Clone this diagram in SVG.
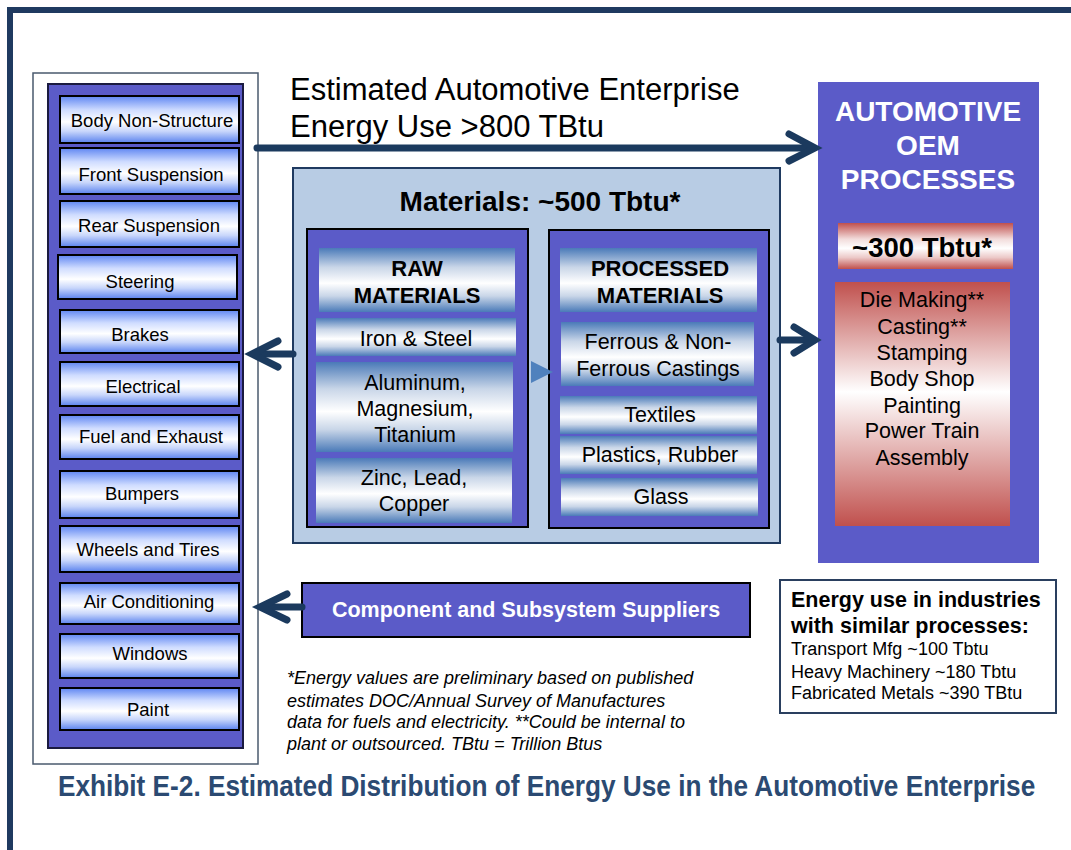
<svg xmlns="http://www.w3.org/2000/svg" width="1071" height="850" viewBox="0 0 1071 850">
<defs>
<linearGradient id="gBlue" x1="0" y1="0" x2="0" y2="1">
<stop offset="0" stop-color="#5f86f2"/><stop offset="0.3" stop-color="#cfdcff"/><stop offset="0.55" stop-color="#ffffff"/><stop offset="0.75" stop-color="#c8d6fb"/><stop offset="1" stop-color="#5a82ee"/>
</linearGradient>
<linearGradient id="gSteel" x1="0" y1="0" x2="0" y2="1">
<stop offset="0" stop-color="#4a7ab8"/><stop offset="0.3" stop-color="#c9d6e8"/><stop offset="0.55" stop-color="#ffffff"/><stop offset="0.75" stop-color="#c9d6e8"/><stop offset="1" stop-color="#4a7ab8"/>
</linearGradient>
<linearGradient id="gRed" x1="0" y1="0" x2="0" y2="1">
<stop offset="0" stop-color="#c0504d"/><stop offset="0.35" stop-color="#f2dcdb"/><stop offset="0.55" stop-color="#ffffff"/><stop offset="0.75" stop-color="#ecc9c8"/><stop offset="1" stop-color="#c0504d"/>
</linearGradient>
<linearGradient id="gRedList" x1="0" y1="0" x2="0" y2="1">
<stop offset="0" stop-color="#c0504d"/><stop offset="0.45" stop-color="#ffffff"/><stop offset="1" stop-color="#c0504d"/>
</linearGradient>
<style>
.t{font-family:"Liberation Sans",Arial,sans-serif;fill:#000;text-anchor:middle}
.it{font-size:18.5px}
.mt{font-size:21.5px}
.hb{font-size:22px;font-weight:bold}
.item{fill:url(#gBlue);stroke:#000;stroke-width:2}
.steel{fill:url(#gSteel)}
.purple{fill:#5b5bc8}
.conn{fill:none;stroke:#1b3a5e;stroke-width:7;stroke-linecap:round;stroke-linejoin:miter}
.fn{font-family:"Liberation Sans",Arial,sans-serif;font-size:18px;font-style:italic;fill:#000}
.eb{font-family:"Liberation Sans",Arial,sans-serif;font-size:21.5px;font-weight:bold;fill:#000}
.er{font-family:"Liberation Sans",Arial,sans-serif;font-size:18px;fill:#000}
</style>
</defs>
<rect x="0" y="0" width="1071" height="850" fill="#ffffff"/>
<rect id="frame" x="10" y="10" width="1100" height="900" fill="none" stroke="#1f3a60" stroke-width="6"/>

<g id="components-panel">
<rect x="33" y="73" width="225" height="691" fill="#ffffff" stroke="#4a5a6e" stroke-width="1.5"/>
<rect x="48" y="84" width="195" height="664" class="purple" stroke="#1a1a40" stroke-width="2"/>
</g>
<g id="body-non-structure"><rect class="item" x="60" y="96" width="179" height="47"/><text class="t it" x="152" y="127">Body Non-Structure</text></g>
<g id="front-suspension"><rect class="item" x="60" y="148" width="179" height="46"/><text class="t it" x="151" y="181">Front Suspension</text></g>
<g id="rear-suspension"><rect class="item" x="60" y="201" width="179" height="46"/><text class="t it" x="149" y="232">Rear Suspension</text></g>
<g id="steering"><rect class="item" x="58" y="255" width="179" height="44"/><text class="t it" x="140" y="288">Steering</text></g>
<g id="brakes"><rect class="item" x="60" y="310" width="179" height="43"/><text class="t it" x="140" y="341">Brakes</text></g>
<g id="electrical"><rect class="item" x="60" y="362" width="179" height="44"/><text class="t it" x="143" y="393">Electrical</text></g>
<g id="fuel-exhaust"><rect class="item" x="60" y="415" width="179" height="44"/><text class="t it" x="151" y="443">Fuel and Exhaust</text></g>
<g id="bumpers"><rect class="item" x="60" y="471" width="179" height="47"/><text class="t it" x="142" y="500">Bumpers</text></g>
<g id="wheels-tires"><rect class="item" x="60" y="526" width="179" height="46"/><text class="t it" x="148" y="556">Wheels and Tires</text></g>
<g id="air-conditioning"><rect class="item" x="60" y="583" width="179" height="41"/><text class="t it" x="149" y="608">Air Conditioning</text></g>
<g id="windows"><rect class="item" x="60" y="634" width="179" height="44"/><text class="t it" x="150" y="660">Windows</text></g>
<g id="paint"><rect class="item" x="60" y="688" width="179" height="42"/><text class="t it" x="148" y="716">Paint</text></g>

<g id="enterprise-title">
<text x="290" y="100" font-family="Liberation Sans,Arial,sans-serif" font-size="31" fill="#000">Estimated Automotive Enterprise</text>
<text x="290" y="137" font-family="Liberation Sans,Arial,sans-serif" font-size="31" fill="#000">Energy Use &gt;800 TBtu</text>
</g>

<g id="materials">
<rect x="293" y="168" width="487" height="375" fill="#b8cce4" stroke="#1f3a60" stroke-width="2"/>
<text class="t" x="540" y="211" font-size="28" font-weight="bold">Materials: ~500 Tbtu*</text>
</g>
<g id="raw-materials">
<rect x="307" y="229" width="221" height="298" class="purple" stroke="#000" stroke-width="2"/>
<rect class="steel" x="319" y="248" width="196" height="64"/>
<text class="t hb" x="417" y="276">RAW</text><text class="t hb" x="417" y="303">MATERIALS</text>
<rect class="steel" x="316" y="318" width="200" height="38"/>
<text class="t mt" x="416" y="346">Iron &amp; Steel</text>
<rect class="steel" x="316" y="362" width="197" height="90"/>
<text class="t mt" x="415" y="390">Aluminum,</text><text class="t mt" x="415" y="416">Magnesium,</text><text class="t mt" x="415" y="442">Titanium</text>
<rect class="steel" x="316" y="458" width="196" height="65"/>
<text class="t mt" x="414" y="485">Zinc, Lead,</text><text class="t mt" x="414" y="511">Copper</text>
</g>
<g id="processed-materials">
<rect x="549" y="230" width="220" height="298" class="purple" stroke="#000" stroke-width="2"/>
<rect class="steel" x="560" y="248" width="197" height="64"/>
<text class="t hb" x="660" y="276">PROCESSED</text><text class="t hb" x="660" y="303">MATERIALS</text>
<rect class="steel" x="561" y="322" width="193" height="64"/>
<text class="t mt" x="658" y="349">Ferrous &amp; Non-</text><text class="t mt" x="658" y="376">Ferrous Castings</text>
<rect class="steel" x="560" y="396" width="197" height="38"/>
<text class="t mt" x="660" y="422">Textiles</text>
<rect class="steel" x="560" y="436" width="197" height="38"/>
<text class="t mt" x="660" y="462">Plastics, Rubber</text>
<rect class="steel" x="561" y="478" width="197" height="38"/>
<text class="t mt" x="661" y="504">Glass</text>
</g>

<g id="oem-processes">
<rect x="818" y="82" width="221" height="481" class="purple"/>
<text class="t" x="928" y="121" font-size="28" font-weight="bold" style="fill:#fff">AUTOMOTIVE</text>
<text class="t" x="928" y="155" font-size="28" font-weight="bold" style="fill:#fff">OEM</text>
<text class="t" x="928" y="189" font-size="28" font-weight="bold" style="fill:#fff">PROCESSES</text>
<rect x="838" y="223" width="175" height="46" fill="url(#gRed)"/>
<text class="t" x="922" y="257" font-size="27.5" font-weight="bold">~300 Tbtu*</text>
<rect x="835" y="282" width="175" height="244" fill="url(#gRedList)"/>
<text class="t mt" x="922" y="307">Die Making**</text>
<text class="t mt" x="922" y="334">Casting**</text>
<text class="t mt" x="922" y="360">Stamping</text>
<text class="t mt" x="922" y="386">Body Shop</text>
<text class="t mt" x="922" y="413">Painting</text>
<text class="t mt" x="922" y="438">Power Train</text>
<text class="t mt" x="922" y="465">Assembly</text>
</g>

<g id="suppliers">
<rect x="302" y="583" width="448" height="54" class="purple" stroke="#000" stroke-width="2"/>
<text class="t" x="526" y="617" font-size="21.5" font-weight="bold" style="fill:#fff">Component and Subsystem Suppliers</text>
</g>

<g id="similar-industries">
<rect x="780" y="580" width="276" height="133" fill="#fff" stroke="#2a3f5f" stroke-width="2"/>
<text class="eb" x="791" y="607">Energy use in industries</text>
<text class="eb" x="791" y="633">with similar processes:</text>
<text class="er" x="791" y="655">Transport Mfg ~100 Tbtu</text>
<text class="er" x="791" y="678">Heavy Machinery ~180 Tbtu</text>
<text class="er" x="791" y="699">Fabricated Metals ~390 TBtu</text>
</g>

<g id="footnote">
<text class="fn" x="287" y="684">*Energy values are preliminary based on published</text>
<text class="fn" x="287" y="707">estimates DOC/Annual Survey of Manufactures</text>
<text class="fn" x="287" y="728">data for fuels and electricity. **Could be internal to</text>
<text class="fn" x="287" y="750">plant or outsourced.  TBtu = Trillion Btus</text>
</g>

<g id="connectors">
<path class="conn" d="M257 148 H812"/>
<path class="conn" d="M789 134 L815 148 L789 161"/>
<path class="conn" d="M293 354 H256"/>
<path class="conn" d="M278 341 L252 354 L278 367"/>
<path class="conn" d="M780 340 H812"/>
<path class="conn" d="M794 327 L815 340 L794 353"/>
<path class="conn" d="M302 607 H263"/>
<path class="conn" d="M287 594 L260 607 L287 620"/>
<path d="M531 361 L553 372 L531 383 Z" fill="#4f81bd"/>
</g>

<g transform="translate(58,796) scale(0.75,1)">
<text id="caption" x="0" y="0" font-family="Liberation Sans,Arial,sans-serif" font-size="30" font-weight="bold" fill="#2b4a72" textLength="1303" lengthAdjust="spacingAndGlyphs">Exhibit E-2. Estimated Distribution of Energy Use in the Automotive Enterprise</text>
</g>
</svg>
